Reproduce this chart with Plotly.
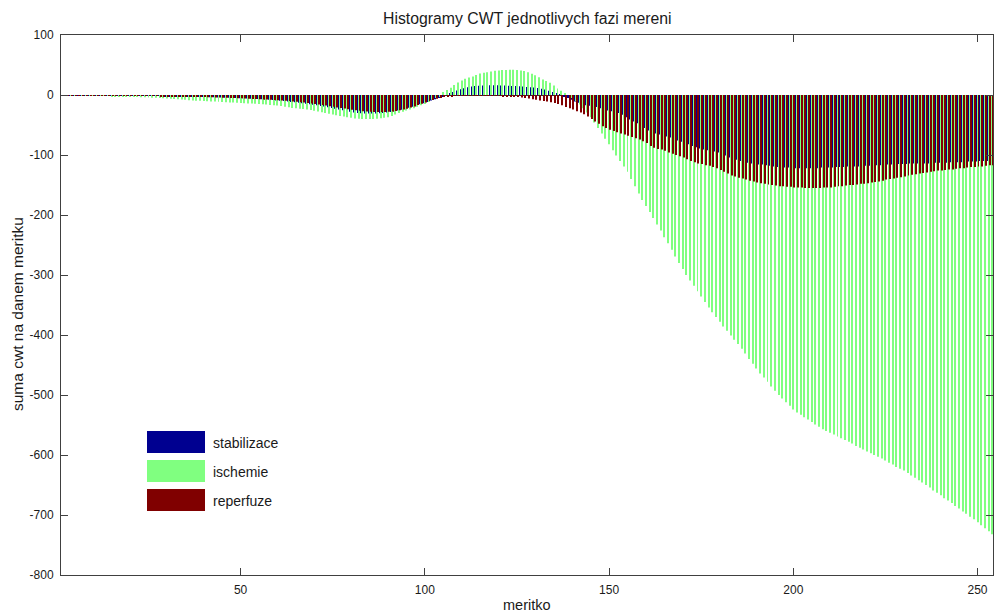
import plotly.graph_objects as go

scales = list(range(1, 257))

stabilizace = [
    0, 0, 0, -0.1, -0.1, -0.2, -0.2, -0.3, -0.3, -0.4,
    -0.4, -0.5, -0.5, -0.6, -0.6, -0.7, -0.7, -0.8, -0.8, -0.9,
    -1.0, -1.0, -1.1, -1.2, -1.3, -1.4, -1.5, -1.6, -1.7, -1.8,
    -1.9, -2.0, -2.1, -2.2, -2.4, -2.5, -2.7, -2.9, -3.0, -3.2,
    -3.4, -3.6, -3.8, -4.0, -4.2, -4.4, -4.6, -4.8, -5.0, -5.3,
    -5.6, -5.9, -6.2, -6.5, -6.8, -7.1, -7.5, -8.0, -8.5, -9.0,
    -9.6, -10.2, -10.8, -11.5, -12.2, -13.0, -13.8, -14.6, -15.4, -16.3,
    -17.2, -18.2, -19.3, -20.5, -21.7, -23.0, -24.3, -25.6, -26.8, -28.0,
    -29.0, -29.8, -30.4, -30.8, -31.0, -31.0, -30.8, -30.5, -30.0, -29.3,
    -28.4, -27.3, -26.0, -24.6, -23.0, -21.3, -19.5, -17.6, -15.6, -13.6,
    -11.5, -9.3, -7.0, -4.8, -2.5, 0.0, 2.5, 5.0, 7.5, 9.5,
    11.3, 12.8, 14.0, 15.0, 15.6, 16.0, 16.2, 16.3, 16.3, 16.2,
    16.0, 15.8, 15.5, 15.2, 14.8, 14.4, 14.0, 13.5, 13.0, 12.4,
    11.6, 10.5, 9.0, 7.0, 5.0, 3.0, 0.5, -2.0, -5.0, -8.0,
    -11.0, -13.0, -15.0, -17.0, -18.0, -19.0, -20.0, -22.0, -24.0, -26.0,
    -27.0, -28.0, -30.0, -33.0, -37.0, -41.0, -44.0, -47.0, -51.0, -55.0,
    -59.0, -62.0, -64.0, -66.0, -67.0, -69.0, -71.0, -73.0, -76.0, -78.0,
    -80.0, -82.0, -85.0, -87.0, -89.0, -91.0, -92.0, -93.0, -94.0, -96.0,
    -98.0, -101.0, -104.0, -106.0, -108.0, -110.0, -112.0, -113.0, -114.0, -115.0,
    -116.0, -116.0, -117.0, -118.0, -119.0, -120.0, -120.0, -121.0, -121.0, -122.0,
    -122.0, -122.0, -122.0, -122.0, -122.0, -122.0, -122.0, -121.0, -121.0, -121.0,
    -121.0, -120.0, -120.0, -120.0, -119.0, -119.0, -119.0, -119.0, -118.0, -118.0,
    -118.0, -117.0, -117.0, -117.0, -116.0, -116.0, -116.0, -115.0, -115.0, -115.0,
    -115.0, -114.0, -114.0, -114.0, -114.0, -114.0, -114.0, -114.0, -113.0, -113.0,
    -113.0, -113.0, -112.0, -112.0, -112.0, -112.0, -111.0, -111.0, -111.0, -111.0,
    -110.0, -110.0, -110.0, -110.0, -109.0, -109.0,
]

ischemie = [
    0, -0.2, -0.3, -0.4, -0.5, -0.6, -0.7, -0.8, -0.9, -1.0,
    -1.2, -1.3, -1.5, -1.6, -1.8, -2.0, -2.1, -2.3, -2.5, -2.8,
    -3.0, -3.3, -3.6, -3.8, -4.1, -4.4, -4.7, -5.0, -5.4, -5.9,
    -6.3, -6.8, -7.2, -7.7, -8.1, -8.6, -9.0, -9.4, -9.7, -10.0,
    -10.4, -10.7, -11.0, -11.4, -11.7, -12.0, -12.3, -12.7, -13.0, -13.3,
    -13.7, -14.0, -14.3, -14.6, -15.0, -15.5, -16.0, -16.5, -17.0, -17.5,
    -18.5, -19.5, -20.5, -21.5, -22.2, -22.8, -23.5, -24.2, -25.0, -26.2,
    -27.4, -28.6, -30.0, -31.2, -32.4, -33.6, -34.8, -36.0, -37.0, -38.0,
    -39.0, -39.6, -40.0, -40.2, -40.2, -40.0, -39.6, -38.8, -38.0, -37.0,
    -35.0, -32.5, -30.0, -28.0, -26.0, -24.0, -22.0, -19.5, -17.0, -15.0,
    -11.5, -8.0, -5.0, -2.0, 5.0, 8.5, 12.0, 16.5, 21.0, 24.0,
    27.0, 29.0, 31.0, 33.5, 36.0, 37.0, 38.0, 39.2, 40.4, 41.0,
    41.5, 41.8, 42.0, 42.0, 41.6, 41.0, 40.0, 38.0, 35.5, 33.0,
    29.5, 26.0, 23.5, 20.5, 16.0, 11.0, 7.0, 3.0, 0.0, -5.0,
    -10.0, -16.0, -22.0, -29.0, -37.0, -46.0, -55.0, -64.0, -73.0, -82.0,
    -92.0, -101.0, -110.0, -119.0, -128.0, -140.0, -152.0, -164.0, -175.0, -185.0,
    -195.0, -205.0, -216.0, -226.0, -237.0, -247.0, -258.0, -269.0, -280.0, -290.0,
    -300.0, -309.0, -318.0, -327.0, -336.0, -345.0, -354.0, -362.0, -370.0, -378.0,
    -386.0, -393.0, -401.0, -408.0, -415.0, -423.0, -431.0, -440.0, -448.0, -456.0,
    -464.0, -471.0, -478.0, -486.0, -493.0, -500.0, -506.0, -512.0, -518.0, -524.0,
    -529.0, -533.0, -537.0, -541.0, -545.0, -549.0, -553.0, -557.0, -560.0, -563.0,
    -566.0, -569.0, -572.0, -575.0, -578.0, -581.0, -585.0, -588.0, -591.0, -594.0,
    -597.0, -600.0, -603.0, -606.0, -609.0, -613.0, -616.0, -620.0, -623.0, -626.0,
    -630.0, -634.0, -638.0, -642.0, -646.0, -650.0, -654.0, -659.0, -663.0, -667.0,
    -672.0, -676.0, -680.0, -685.0, -689.0, -694.0, -698.0, -703.0, -707.0, -712.0,
    -717.0, -722.0, -727.0, -732.0, -737.0, -742.0,
]

reperfuze = [
    0, 0, -0.1, -0.1, -0.2, -0.2, -0.3, -0.3, -0.4, -0.4,
    -0.5, -0.5, -0.6, -0.6, -0.7, -0.7, -0.8, -0.8, -0.9, -1.0,
    -1.0, -1.1, -1.2, -1.3, -1.4, -1.5, -1.6, -1.7, -1.8, -1.9,
    -2.0, -2.1, -2.2, -2.4, -2.5, -2.7, -2.8, -3.0, -3.2, -3.4,
    -3.6, -3.8, -4.0, -4.2, -4.4, -4.6, -4.8, -5.0, -5.3, -5.6,
    -5.9, -6.2, -6.5, -6.8, -7.1, -7.4, -7.7, -8.0, -8.4, -8.8,
    -9.2, -9.7, -10.2, -10.8, -11.4, -12.0, -12.7, -13.4, -14.1, -14.9,
    -15.8, -16.7, -17.7, -18.7, -19.7, -20.7, -21.7, -22.7, -23.7, -24.6,
    -25.4, -26.2, -26.9, -27.5, -28.0, -28.3, -28.5, -28.5, -28.3, -27.9,
    -27.3, -26.5, -25.5, -24.3, -22.8, -21.0, -19.0, -16.8, -14.6, -12.4,
    -10.2, -8.2, -6.4, -4.8, -3.5, -2.5, -1.8, -1.3, -1.0, -0.8,
    -0.7, -0.6, -0.6, -0.6, -0.7, -0.8, -0.9, -1.0, -1.2, -1.4,
    -1.7, -2.0, -2.4, -2.9, -3.5, -4.2, -5.0, -6.0, -7.0, -8.0,
    -9.0, -10.0, -11.0, -12.0, -13.5, -15.0, -17.0, -20.0, -22.0, -24.0,
    -27.0, -29.0, -32.0, -36.0, -40.0, -44.0, -48.0, -52.0, -55.0, -58.0,
    -60.0, -62.0, -64.0, -66.0, -68.0, -70.0, -72.0, -74.0, -77.0, -80.0,
    -85.0, -88.0, -90.0, -91.0, -93.0, -96.0, -98.0, -100.0, -102.0, -104.0,
    -107.0, -110.0, -112.0, -114.0, -115.0, -117.0, -118.0, -120.0, -122.0, -125.0,
    -128.0, -131.0, -134.0, -136.0, -138.0, -139.0, -141.0, -143.0, -144.0, -146.0,
    -147.0, -148.0, -149.0, -150.0, -151.0, -152.0, -152.0, -153.0, -153.0, -154.0,
    -154.0, -154.0, -155.0, -155.0, -155.0, -155.0, -155.0, -154.0, -154.0, -154.0,
    -153.0, -152.0, -152.0, -151.0, -150.0, -150.0, -149.0, -148.0, -148.0, -147.0,
    -146.0, -145.0, -144.0, -143.0, -141.0, -140.0, -139.0, -138.0, -137.0, -136.0,
    -134.0, -133.0, -132.0, -131.0, -130.0, -129.0, -128.0, -127.0, -126.0, -126.0,
    -125.0, -124.0, -124.0, -123.0, -122.0, -122.0, -121.0, -120.0, -120.0, -119.0,
    -119.0, -118.0, -117.0, -117.0, -116.0, -116.0,
]

series_names = ["stabilizace", "ischemie", "reperfuze"]
series_colors = ["#000090", "#80FF80", "#800000"]
series_values = [stabilizace, ischemie, reperfuze]

x_ticks = [50, 100, 150, 200, 250]
x_ticktext = ["50", "100", "150", "200", "250"]
y_ticks = [-800, -700, -600, -500, -400, -300, -200, -100, 0, 100]
y_ticktext = ["-800", "-700", "-600", "-500", "-400", "-300", "-200", "-100", "0", "100"]

title_text = "Histogramy CWT jednotlivych fazi mereni"
x_label = "meritko"
y_label = "suma cwt na danem meritku"

W, H = 994, 615
L, R, T, B = 61, 993, 35, 575  # plot area in px

fig = go.Figure()
for name, color, vals in zip(series_names, series_colors, series_values):
    fig.add_trace(go.Bar(x=scales, y=vals, name=name,
                         marker=dict(color=color, line=dict(width=0)),
                         showlegend=False))

axis_color = "#404040"
text_color = "#1a1a1a"
font_family = "Liberation Sans, Arial, sans-serif"

fig.update_layout(
    width=W, height=H,
    margin=dict(l=L, r=W - R, t=T, b=H - B, pad=0),
    paper_bgcolor="white", plot_bgcolor="white",
    barmode="group", bargap=0.2, bargroupgap=0,
    font=dict(family=font_family, size=12, color=text_color),
    showlegend=False,
)
fig.update_xaxes(
    range=[1.25, 254.2], tickvals=x_ticks, ticktext=x_ticktext,
    ticks="inside", ticklen=7, ticklabelstandoff=4,
    tickcolor=axis_color, showline=True, linecolor=axis_color, linewidth=1,
    mirror="ticks", showgrid=False, zeroline=False,
    tickfont=dict(size=12, family=font_family, color=text_color),
)
fig.update_yaxes(
    range=[-800, 100], tickvals=y_ticks, ticktext=y_ticktext,
    ticks="inside", ticklen=7, ticklabelstandoff=4,
    tickcolor=axis_color, showline=True, linecolor=axis_color, linewidth=1,
    mirror="ticks", showgrid=False, zeroline=True, zerolinecolor="#303030",
    zerolinewidth=1,
    tickfont=dict(size=12, family=font_family, color=text_color),
)

def px_x(p):
    return (p - L) / (R - L)

def px_y(p):
    return (B - p) / (B - T)

def label(text, x, y, size, angle=0, xanchor="center"):
    fig.add_annotation(text=text, xref="paper", yref="paper",
                       x=px_x(x), y=px_y(y), xanchor=xanchor, yanchor="middle",
                       showarrow=False, textangle=angle,
                       font=dict(size=size, family=font_family, color=text_color))

# title and axis labels
label(title_text, 527, 18, 15.8)
label(x_label, 527, 605, 14.5)
label(y_label, 18, 314, 15.5, angle=-90)

# legend drawn manually (swatch + label)
legend_rows = [(431, 453), (460, 482), (489, 511)]
for (y0, y1), name, color in zip(legend_rows, series_names, series_colors):
    fig.add_shape(type="rect", xref="paper", yref="paper",
                  x0=px_x(147), x1=px_x(205), y0=px_y(y1), y1=px_y(y0),
                  fillcolor=color, line=dict(width=0))
    label(name, 211, (y0 + y1) / 2 + 1, 14, xanchor="left")

fig.write_html("out.html",
               config={"displayModeBar": False},
               post_script="document.body.style.margin='0';document.body.style.overflow='hidden';")
